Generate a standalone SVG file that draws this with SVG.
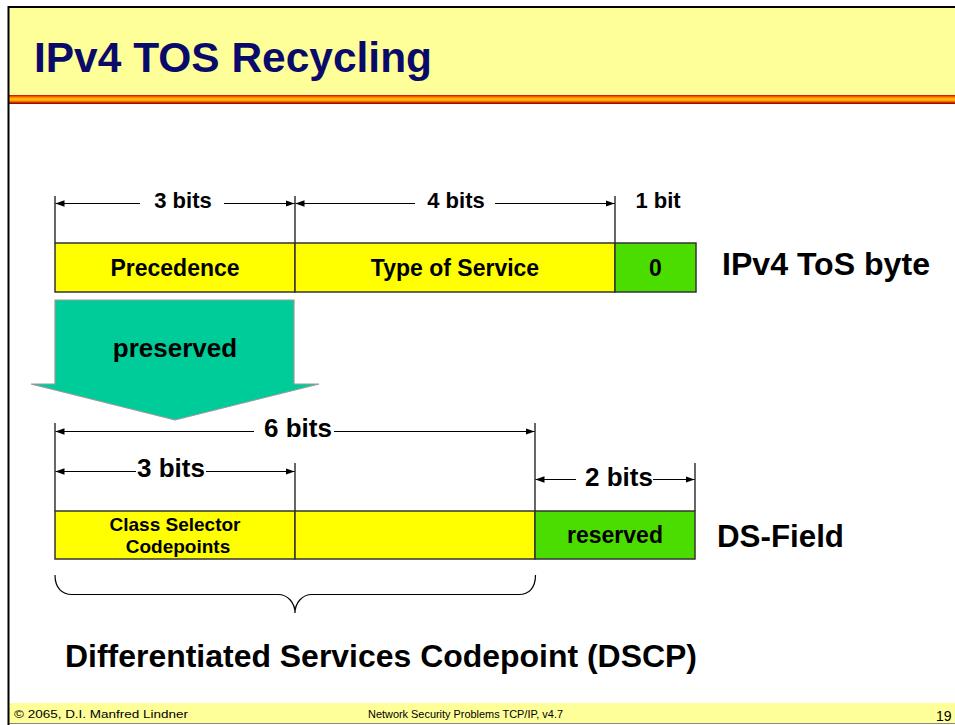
<svg xmlns="http://www.w3.org/2000/svg" width="955" height="725" viewBox="0 0 955 725">
<style>
text{font-family:"Liberation Sans",Arial,sans-serif;font-weight:bold;fill:#000}
.lbl{font-size:23px;text-anchor:middle}
.big{font-size:31px}
.dim{stroke:#000;stroke-width:1.2;fill:none}
.arr{stroke:#000;stroke-width:1.2;fill:none;marker-end:url(#ah)}
.yel{fill:#FFFF00;stroke:#333;stroke-width:1.5}
.grn{fill:#4CDD00;stroke:#333;stroke-width:1.5}
.foot{font-weight:normal;font-size:11px}
</style>
<defs>
<marker id="ah" viewBox="0 0 10 10" refX="10" refY="5" markerWidth="9" markerHeight="9" markerUnits="userSpaceOnUse" orient="auto">
<path d="M0,1.5 L10,5 L0,8.5 z" fill="#000"/>
</marker>
<linearGradient id="stripe" x1="0" y1="0" x2="0" y2="1">
<stop offset="0" stop-color="#CC0000"/>
<stop offset="0.2" stop-color="#FF6600"/>
<stop offset="0.45" stop-color="#FFCC00"/>
<stop offset="0.65" stop-color="#FF9900"/>
<stop offset="0.85" stop-color="#CC2200"/>
<stop offset="1" stop-color="#880000"/>
</linearGradient>
</defs>
<rect width="955" height="725" fill="#fff"/>
<g id="header">
<rect x="9" y="8" width="946" height="87" fill="#FFFF99"/>
<rect x="9" y="95" width="946" height="9" fill="url(#stripe)"/>
<line x1="8" y1="7" x2="955" y2="7" stroke="#000" stroke-width="2"/>
<text x="34" y="72" textLength="398" lengthAdjust="spacingAndGlyphs" style="font-size:43px;fill:#0A0A6B">IPv4 TOS Recycling</text>
</g>
<g id="footer">
<rect x="9" y="703" width="946" height="20" fill="#FFFF99"/>
<line x1="9" y1="723.5" x2="955" y2="723.5" stroke="#888" stroke-width="1"/>
<text class="foot" x="14" y="718" textLength="174" lengthAdjust="spacingAndGlyphs">© 2065, D.I. Manfred Lindner</text>
<text class="foot" x="368" y="718" textLength="195" lengthAdjust="spacingAndGlyphs">Network Security Problems TCP/IP, v4.7</text>
<text class="foot" x="936" y="721" style="font-size:14px">19</text>
</g>
<line x1="8.5" y1="6" x2="8.5" y2="725" stroke="#000" stroke-width="2"/>

<g id="connectors">
<line class="dim" x1="55" y1="196" x2="55" y2="243"/>
<line class="dim" x1="295" y1="196" x2="295" y2="243"/>
<line class="dim" x1="615" y1="196" x2="615" y2="243"/>
<line class="arr" x1="140" y1="203.5" x2="55.5" y2="203.5"/>
<line class="arr" x1="224" y1="203.5" x2="294.5" y2="203.5"/>
<line class="arr" x1="415" y1="203.5" x2="295.5" y2="203.5"/>
<line class="arr" x1="495" y1="203.5" x2="614.5" y2="203.5"/>
<line class="dim" x1="55" y1="423" x2="55" y2="511"/>
<line class="dim" x1="535" y1="423" x2="535" y2="511"/>
<line class="arr" x1="254" y1="431.5" x2="55.5" y2="431.5"/>
<line class="arr" x1="334" y1="431.5" x2="534.5" y2="431.5"/>
<line class="dim" x1="295" y1="463" x2="295" y2="511"/>
<line class="arr" x1="136" y1="471.5" x2="55.5" y2="471.5"/>
<line class="arr" x1="206" y1="471.5" x2="294.5" y2="471.5"/>
<line class="dim" x1="695" y1="463" x2="695" y2="511"/>
<line class="arr" x1="576" y1="479.5" x2="535.5" y2="479.5"/>
<line class="arr" x1="653" y1="479.5" x2="694.5" y2="479.5"/>
<path class="dim" d="M55,575 C55,588 62,594.5 72,594.5 L278,594.5 C288,594.5 295,603 295,613 C295,603 302,594.5 312,594.5 L519,594.5 C529,594.5 535.5,588 535.5,575"/>
</g>

<g id="dim-labels">
<text class="lbl" x="183" y="208" style="font-size:22px">3 bits</text>
<text class="lbl" x="456" y="208" style="font-size:22px">4 bits</text>
<text class="lbl" x="658" y="208" style="font-size:22px">1 bit</text>
<text class="lbl" x="298" y="437" style="font-size:26px">6 bits</text>
<text class="lbl" x="171" y="477" style="font-size:26px">3 bits</text>
<text class="lbl" x="619" y="486" style="font-size:26px">2 bits</text>
</g>

<g id="precedence">
<rect class="yel" x="55" y="243" width="240" height="49"/>
<text class="lbl" x="175" y="276">Precedence</text>
</g>
<g id="type-of-service">
<rect class="yel" x="295" y="243" width="320" height="49"/>
<text class="lbl" x="455" y="276">Type of Service</text>
</g>
<g id="bit-zero">
<rect class="grn" x="615" y="243" width="81" height="49"/>
<text class="lbl" x="655.5" y="276">0</text>
</g>
<g id="ipv4-tos-label">
<text class="big" x="722" y="275" textLength="208" lengthAdjust="spacingAndGlyphs">IPv4 ToS byte</text>
</g>

<g id="preserved">
<path d="M55,300 L294,300 L294,384 L319,384 L175,420 L31,384 L55,384 z" fill="#00CC99" stroke="#999" stroke-width="1.2"/>
<text class="lbl" x="175" y="357" style="font-size:26px">preserved</text>
</g>

<g id="class-selector">
<rect class="yel" x="55" y="511" width="240" height="48"/>
<text class="lbl" x="175" y="531" style="font-size:19px">Class Selector</text>
<text class="lbl" x="178" y="553" style="font-size:19px">Codepoints</text>
</g>
<g id="dscp-rest">
<rect class="yel" x="295" y="511" width="240" height="48"/>
</g>
<g id="reserved">
<rect class="grn" x="535" y="511" width="160" height="48"/>
<text class="lbl" x="615" y="543">reserved</text>
</g>
<g id="ds-field-label">
<text class="big" x="717" y="547" textLength="127" lengthAdjust="spacingAndGlyphs">DS-Field</text>
</g>
<g id="dscp-label">
<text x="65" y="667" textLength="632" lengthAdjust="spacingAndGlyphs" style="font-size:32px">Differentiated Services Codepoint (DSCP)</text>
</g>
</svg>
